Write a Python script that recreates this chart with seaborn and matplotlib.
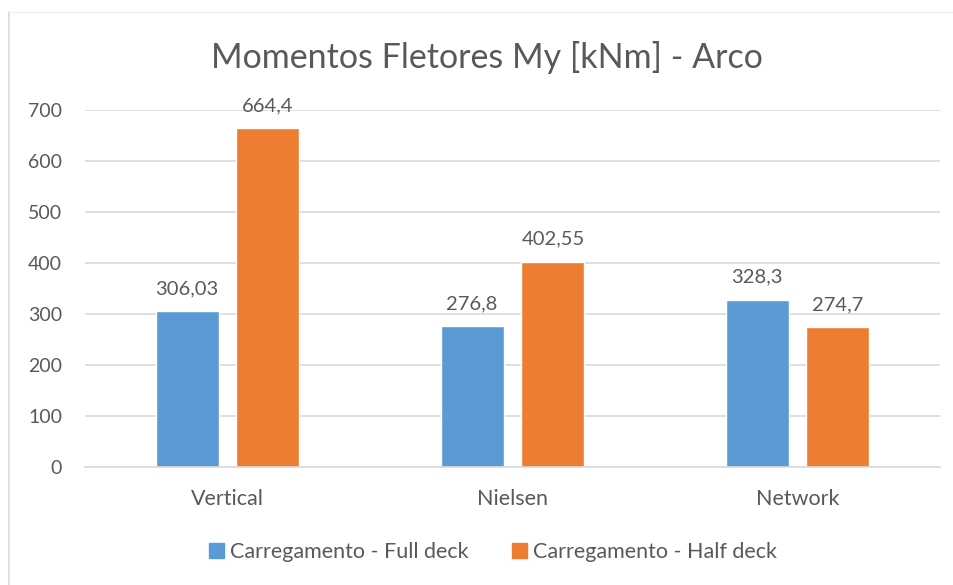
import matplotlib
matplotlib.use("Agg")
import matplotlib.pyplot as plt
import matplotlib.patches as mpatches
import seaborn as sns
import pandas as pd

categories = ["Vertical", "Nielsen", "Network"]
series_names = ["Carregamento - Full deck", "Carregamento - Half deck"]
full_deck = [306.03, 276.8, 328.3]
half_deck = [664.4, 402.55, 274.7]
value_labels_full = ["306,03", "276,8", "328,3"]
value_labels_half = ["664,4", "402,55", "274,7"]
yticks = [0, 100, 200, 300, 400, 500, 600, 700]
colors = ["#5B9BD5", "#ED7D31"]
title = "Momentos Fletores My [kNm] - Arco"

df = pd.DataFrame({
    "categoria": categories * 2,
    "serie": [series_names[0]] * 3 + [series_names[1]] * 3,
    "valor": full_deck + half_deck,
})

sns.set_theme(style="white")
plt.rcParams["font.family"] = ["Lato", "DejaVu Sans"]
text_color = "#595959"

fig = plt.figure(figsize=(9.54, 5.85), dpi=100)
fig.patch.set_facecolor("white")
# chart-area frame edge
fig.add_artist(plt.Line2D([9 / 954, 9 / 954], [0, 1 - 12 / 585], transform=fig.transFigure,
                          color="#D9D9D9", lw=1.2))
fig.add_artist(plt.Line2D([9 / 954, 1], [1 - 12 / 585, 1 - 12 / 585], transform=fig.transFigure,
                          color="#F2F2F2", lw=1.0))

ax = fig.add_axes([85 / 954, 1 - 467 / 585, (940 - 85) / 954, (467 - 110) / 585])
sns.barplot(data=df, x="categoria", y="valor", hue="serie", order=categories,
            hue_order=series_names, palette=colors, width=0.568, gap=0.222,
            saturation=1, ax=ax, legend=False)

ax.set_xlim(-0.5, 2.5)
ax.set_ylim(0, 700)
ax.set_yticks(yticks)
ax.set_yticklabels([str(t) for t in yticks])
ax.yaxis.grid(True, color="#D9D9D9", lw=1.2)
ax.set_axisbelow(True)
for s in ["top", "right", "left"]:
    ax.spines[s].set_visible(False)
ax.spines["bottom"].set_color("#D9D9D9")
ax.spines["bottom"].set_linewidth(1.2)
ax.set_xlabel("")
ax.set_ylabel("")
ax.tick_params(axis="both", length=0, labelcolor=text_color)
ax.tick_params(axis="y", labelsize=14, pad=16.5)
ax.tick_params(axis="x", labelsize=15.5, pad=16)

for container, labels in zip(ax.containers, [value_labels_full, value_labels_half]):
    ax.bar_label(container, labels=labels, padding=10, fontsize=14.5, color=text_color)

fig.text(487 / 954, 1 - 68 / 585, title, ha="center", va="baseline", fontsize=24.5, color=text_color)

handles = [mpatches.Patch(color=c, label=n) for c, n in zip(colors, series_names)]
fig.legend(handles=handles, loc="center", bbox_to_anchor=(493 / 954, 1 - 552 / 585), ncol=2,
           frameon=False, fontsize=15.5, labelcolor=text_color, handlelength=0.7,
           handleheight=0.7, handletextpad=0.28, columnspacing=2.0)

fig.savefig("out.png", dpi=100, facecolor="white")
